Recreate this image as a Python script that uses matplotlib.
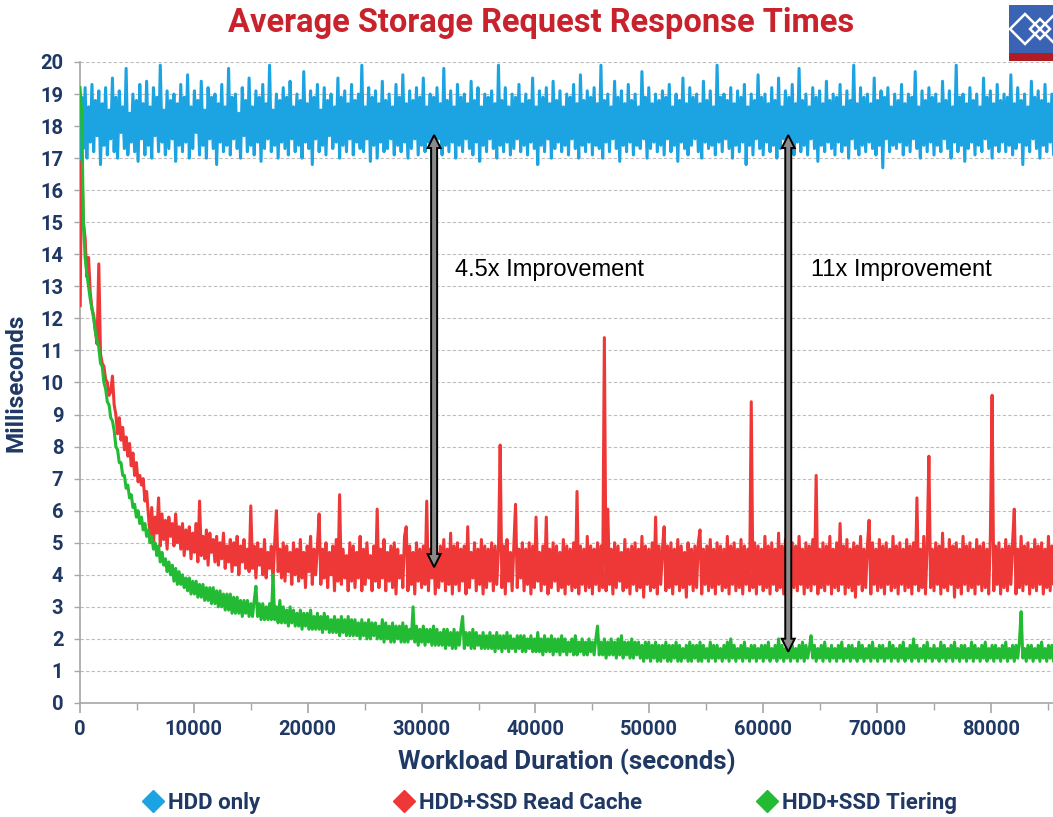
import numpy as np
import matplotlib
matplotlib.use('Agg')
import matplotlib.pyplot as plt
from matplotlib.lines import Line2D
from matplotlib.patches import Rectangle, Polygon

# ---------------- data (one sample every STEP seconds, values in ms) ----------------
STEP = 150

hdd_only = [
    12.4, 18.9, 17.3, 19.2, 17.0, 18.6, 17.5, 19.3, 17.2, 18.8, 17.7, 19.1, 16.8, 18.7, 17.4, 19.2, 17.1, 18.5, 17.6, 19.5,
    17.2, 18.9, 17.0, 19.1, 17.8, 18.6, 17.3, 19.8, 17.1, 18.4, 17.5, 19.0, 17.2, 18.8, 16.9, 19.3, 17.6, 18.7, 17.1, 19.4,
    17.4, 18.6, 17.0, 19.2, 17.7, 18.9, 17.2, 19.9, 17.5, 18.5, 17.1, 19.1, 17.3, 18.8, 17.6, 19.0, 16.9, 18.7, 17.4, 19.3,
    17.2, 18.9, 17.5, 19.6, 17.0, 18.6, 17.3, 19.1, 17.8, 18.8, 17.1, 19.4, 17.4, 18.5, 17.0, 19.2, 17.6, 18.9, 17.3, 19.0,
    16.8, 18.7, 17.5, 19.3, 17.2, 18.6, 17.4, 19.8, 17.1, 18.9, 17.6, 19.0, 17.3, 18.4, 17.0, 19.2, 17.7, 18.8, 17.2, 19.5,
    17.4, 18.6, 17.1, 19.1, 17.5, 18.9, 16.9, 19.3, 17.3, 18.7, 17.6, 19.9, 17.2, 18.5, 17.4, 19.0, 17.0, 18.8, 17.5, 19.2,
    17.3, 18.9, 17.1, 19.4, 17.6, 18.6, 17.2, 19.0, 17.4, 18.8, 17.0, 19.7, 17.5, 18.7, 17.3, 19.1, 16.8, 18.9, 17.6, 19.3,
    17.2, 18.5, 17.4, 19.2, 17.1, 18.8, 17.7, 19.0, 17.3, 18.6, 17.5, 19.5, 17.0, 18.9, 17.4, 19.1, 17.2, 18.7, 17.6, 19.3,
    17.1, 18.8, 17.5, 19.0, 17.3, 19.9, 17.2, 18.6, 17.6, 19.2, 16.9, 18.9, 17.4, 19.1, 17.0, 18.7, 17.5, 19.4, 17.2, 18.8,
    17.3, 19.0, 17.6, 18.6, 17.1, 19.3, 17.4, 18.9, 17.2, 19.6, 17.5, 18.7, 17.0, 19.1, 17.3, 18.8, 17.6, 19.2, 17.1, 18.9,
    17.4, 19.5, 17.2, 18.6, 17.5, 19.0, 16.8, 18.9, 17.3, 19.2, 17.6, 18.7, 17.1, 19.8, 17.4, 18.8, 17.2, 19.1, 17.5, 18.6,
    17.0, 19.3, 17.4, 18.9, 17.2, 19.0, 17.6, 18.7, 17.3, 19.4, 17.1, 18.8, 17.5, 19.2, 16.9, 18.6, 17.4, 19.0, 17.2, 18.9,
    17.6, 19.1, 17.3, 18.7, 17.0, 19.9, 17.4, 18.8, 17.2, 19.2, 17.5, 18.6, 17.1, 19.0, 17.3, 18.9, 17.6, 19.3, 17.2, 18.7,
    17.4, 19.0, 17.1, 18.8, 17.5, 19.5, 17.3, 18.6, 16.8, 19.1, 17.4, 18.9, 17.2, 19.2, 17.6, 18.7, 17.0, 19.4, 17.3, 18.8,
    17.5, 19.1, 17.2, 18.6, 17.4, 19.0, 17.1, 18.9, 17.6, 19.3, 17.3, 18.7, 17.0, 19.6, 17.4, 18.8, 17.2, 19.1, 17.5, 18.9,
    17.1, 19.2, 17.4, 18.7, 17.3, 19.9, 17.0, 18.8, 17.5, 19.0, 17.2, 18.6, 17.6, 19.4, 17.3, 18.9, 16.9, 19.1, 17.4, 18.7,
    17.2, 19.3, 17.5, 18.8, 17.1, 19.0, 17.4, 18.6, 17.3, 19.7, 17.6, 18.9, 17.0, 19.2, 17.3, 18.7, 17.5, 19.0, 17.2, 18.8,
    17.4, 19.1, 17.1, 18.9, 17.6, 19.3, 17.2, 18.6, 17.4, 19.0, 16.9, 18.8, 17.5, 19.5, 17.3, 18.7, 17.1, 19.2, 17.4, 18.9,
    17.6, 19.0, 17.2, 18.7, 17.0, 19.4, 17.5, 18.8, 17.3, 19.1, 17.4, 18.6, 17.1, 19.9, 17.5, 18.9, 17.2, 19.0, 17.6, 18.8,
    17.3, 19.2, 17.0, 18.7, 17.4, 19.1, 17.2, 18.9, 17.5, 19.3, 16.8, 18.6, 17.4, 19.0, 17.1, 18.8, 17.6, 19.6, 17.3, 18.9,
    17.1, 19.0, 17.5, 18.7, 17.2, 19.2, 17.4, 18.8, 17.0, 19.5, 17.3, 18.6, 17.6, 19.1, 17.2, 18.9, 17.4, 19.3, 17.1, 18.7,
    17.5, 19.8, 17.2, 18.8, 17.4, 19.0, 17.1, 18.6, 17.6, 19.2, 17.3, 18.9, 16.9, 19.1, 17.4, 18.7, 17.2, 19.4, 17.5, 18.8,
    17.3, 19.0, 17.1, 18.9, 17.5, 19.3, 17.2, 18.6, 17.4, 19.1, 17.0, 18.8, 17.6, 19.9, 17.3, 18.7, 17.1, 19.2, 17.4, 18.9,
    17.2, 19.0, 17.5, 18.7, 17.3, 19.5, 17.1, 18.8, 17.4, 19.1, 16.7, 18.9, 17.6, 19.2, 17.2, 18.6, 17.4, 19.0, 17.3, 18.8,
    17.5, 19.3, 17.1, 18.7, 17.4, 19.0, 17.2, 18.9, 17.6, 19.7, 17.3, 18.6, 17.0, 19.1, 17.4, 18.8, 17.2, 19.2, 17.5, 18.9,
    17.1, 19.0, 17.4, 18.7, 17.2, 19.4, 17.6, 18.8, 17.3, 19.1, 17.0, 18.6, 17.5, 19.9, 17.2, 18.9, 17.4, 19.0, 16.9, 18.7,
    17.3, 19.2, 17.5, 18.8, 17.1, 19.0, 17.4, 18.6, 17.2, 19.5, 17.6, 18.9, 17.3, 19.1, 17.0, 18.7, 17.4, 19.3, 17.2, 18.8,
    17.5, 19.0, 17.2, 18.9, 17.4, 19.6, 17.1, 18.7, 17.3, 19.2, 17.5, 18.8, 16.8, 19.0, 17.4, 18.6, 17.2, 19.4, 17.6, 18.9,
    17.3, 19.1, 17.0, 18.8, 17.4, 19.3, 17.2, 18.7, 17.5, 19.0, 17.1, 18.9, 17.4, 19.2, 17.3, 18.6, 17.5, 19.1, 17.2, 18.8,
]

read_cache = [
    12.4, 16.9, 15.0, 14.5, 13.3, 13.9, 12.8, 12.3, 12.1, 11.6, 11.2, 13.7, 10.9, 10.6, 10.5, 10.1, 10.0, 9.6, 9.7, 10.2,
    9.3, 9.0, 8.4, 8.9, 8.2, 8.6, 7.9, 8.3, 7.7, 8.1, 7.4, 7.8, 7.1, 7.5, 6.9, 7.1, 6.8, 7.0, 6.3, 6.6,
    5.9, 5.2, 6.1, 5.0, 5.8, 5.3, 6.4, 4.9, 5.9, 5.1, 5.7, 4.8, 5.8, 5.2, 5.6, 4.9, 5.9, 5.0, 5.5, 4.8,
    5.6, 4.6, 5.4, 4.8, 5.5, 4.5, 5.3, 4.7, 5.6, 4.4, 6.3, 4.6, 5.2, 4.5, 5.4, 4.3, 5.3, 4.7, 5.1, 4.4,
    5.2, 4.3, 5.0, 4.5, 5.3, 4.2, 4.9, 4.4, 5.1, 4.1, 5.0, 4.3, 5.2, 4.0, 4.9, 4.4, 5.1, 4.2, 4.8, 4.1,
    6.15, 4.2, 4.9, 3.9, 5.0, 4.3, 4.8, 4.0, 5.1, 3.9, 4.7, 4.2, 4.9, 3.8, 5.0, 6.0, 4.1, 4.8, 3.9, 5.0,
    3.8, 4.9, 4.1, 4.7, 3.7, 5.0, 4.0, 4.8, 3.8, 5.1, 3.9, 4.7, 3.6, 4.9, 4.1, 5.2, 3.7, 4.8, 4.0, 4.9,
    5.9, 3.7, 4.8, 3.9, 5.0, 3.6, 4.7, 4.0, 4.9, 3.5, 5.1, 3.8, 6.5, 3.7, 4.8, 3.9, 4.6, 3.5, 5.0, 3.8,
    4.9, 3.6, 4.7, 3.9, 5.2, 3.5, 4.8, 3.7, 5.0, 3.9, 4.6, 3.5, 4.9, 3.8, 6.05, 3.6, 4.8, 3.9, 5.1, 3.5,
    4.7, 3.8, 4.9, 3.6, 5.0, 3.4, 4.8, 3.9, 4.6, 3.6, 5.2, 5.5, 3.5, 4.9, 3.7, 4.7, 3.4, 5.0, 3.8, 4.8,
    3.6, 4.9, 3.7, 6.3, 3.5, 4.8, 3.9, 5.0, 3.4, 4.7, 3.6, 4.9, 3.8, 5.1, 3.5, 4.8, 3.7, 5.3, 3.4, 4.9,
    3.7, 5.0, 3.5, 4.8, 3.8, 4.9, 3.4, 5.5, 3.6, 4.7, 3.9, 5.0, 3.5, 4.8, 3.7, 5.1, 3.4, 4.9, 3.6, 4.8,
    3.8, 5.0, 3.5, 4.9, 3.7, 4.8, 8.05, 3.6, 4.9, 3.4, 5.1, 3.8, 4.7, 3.5, 4.9, 6.2, 3.6, 4.8, 3.9, 5.0,
    3.5, 4.8, 3.7, 5.0, 3.4, 4.9, 3.6, 5.8, 3.8, 4.7, 3.5, 4.9, 3.7, 5.8, 3.4, 4.8, 3.6, 5.0, 3.8, 4.9,
    3.5, 4.7, 3.6, 5.1, 3.4, 4.9, 3.7, 4.8, 3.5, 5.0, 3.6, 6.6, 3.4, 4.9, 3.7, 4.8, 3.5, 5.2, 3.6, 4.9,
    3.4, 4.8, 3.7, 5.0, 3.5, 4.9, 3.6, 11.4, 3.5, 6.05, 3.7, 4.8, 3.4, 5.0, 3.6, 4.9, 3.8, 4.7, 3.5, 5.1,
    3.6, 4.8, 3.4, 4.9, 3.7, 5.0, 3.5, 4.8, 3.6, 5.2, 3.3, 4.9, 3.7, 4.8, 3.5, 5.0, 3.6, 5.8, 3.4, 4.9,
    3.7, 4.8, 5.5, 3.5, 4.9, 3.6, 5.0, 3.4, 4.8, 3.7, 5.1, 3.5, 4.9, 3.6, 4.7, 3.3, 5.0, 3.7, 4.8, 3.5,
    4.9, 3.6, 5.0, 5.4, 3.4, 4.8, 3.7, 4.9, 3.5, 5.1, 3.6, 4.8, 3.4, 5.0, 3.7, 4.9, 3.5, 4.8, 3.6, 5.2,
    3.4, 4.9, 3.7, 5.0, 3.5, 4.8, 3.6, 5.1, 3.4, 4.9, 3.7, 4.8, 3.5, 9.4, 3.6, 5.0, 3.4, 4.9, 3.7, 4.8,
    3.5, 5.2, 3.6, 4.9, 3.4, 5.0, 3.7, 4.8, 3.5, 5.3, 3.6, 4.9, 3.4, 5.1, 3.7, 4.8, 3.3, 5.0, 3.6, 4.9,
    3.5, 5.2, 3.7, 4.8, 3.4, 5.0, 3.6, 4.9, 3.5, 5.1, 3.7, 7.1, 3.4, 4.8, 3.6, 5.0, 3.5, 4.9, 3.7, 5.2,
    3.4, 4.8, 3.6, 5.0, 3.5, 5.6, 3.7, 4.9, 3.4, 5.1, 3.6, 4.8, 3.5, 5.0, 3.3, 4.9, 3.7, 5.2, 3.5, 4.8,
    3.6, 4.9, 5.7, 3.4, 5.0, 3.7, 4.8, 3.5, 5.1, 3.6, 4.9, 3.4, 5.0, 3.7, 4.8, 3.5, 5.2, 3.6, 4.9, 3.4,
    5.0, 3.7, 4.8, 3.5, 5.1, 3.6, 4.9, 3.4, 5.0, 3.7, 6.4, 3.5, 4.8, 3.6, 5.2, 3.4, 4.9, 7.7, 3.6, 4.8,
    3.5, 5.0, 3.7, 4.9, 3.4, 5.3, 3.6, 4.8, 3.5, 5.1, 3.7, 4.9, 3.3, 5.0, 3.6, 4.8, 3.4, 5.2, 3.7, 4.9,
    3.5, 5.0, 3.6, 4.8, 3.4, 5.1, 3.7, 4.9, 3.5, 5.0, 3.6, 4.8, 3.4, 5.2, 9.6, 3.5, 4.9, 3.7, 5.0, 3.4,
    4.8, 3.6, 5.1, 3.5, 4.9, 3.7, 5.0, 6.05, 3.4, 4.8, 3.6, 5.2, 3.5, 4.9, 3.7, 5.0, 3.4, 4.8, 3.6, 5.1,
    3.5, 4.9, 3.7, 5.0, 3.4, 4.8, 3.6, 5.2, 3.5, 4.9, 3.7, 5.0, 3.4, 4.8, 3.6, 5.1, 3.5, 4.9, 3.7, 5.0,
]

tiering = [
    19.2, 18.4, 15.0, 13.9, 13.4, 13.0, 12.6, 12.3, 12.0, 11.6, 11.3, 11.1, 10.6, 10.5, 10.0, 9.8, 9.4, 9.3, 8.9, 8.8,
    8.5, 8.0, 7.9, 7.5, 7.5, 7.1, 7.1, 6.7, 6.8, 6.4, 6.5, 6.1, 6.2, 5.8, 6.0, 5.6, 5.8, 5.4, 5.6, 5.2,
    5.4, 5.0, 5.2, 4.8, 5.0, 4.6, 4.9, 4.4, 4.7, 4.3, 4.5, 4.1, 4.4, 4.0, 4.3, 3.8, 4.2, 3.7, 4.1, 3.7,
    4.0, 3.6, 3.9, 3.5, 3.9, 3.4, 3.8, 3.4, 3.8, 3.3, 3.7, 3.3, 3.7, 3.2, 3.6, 3.2, 3.6, 3.1, 3.6, 3.1,
    3.5, 3.0, 3.5, 3.0, 3.4, 2.9, 3.4, 2.9, 3.4, 2.8, 3.3, 2.8, 3.3, 2.8, 3.2, 2.7, 3.2, 2.8, 3.2, 2.7,
    3.1, 2.7, 3.2, 3.64, 2.7, 3.1, 2.6, 3.1, 2.6, 3.0, 2.6, 3.1, 2.6, 4.0, 2.6, 3.0, 2.5, 3.2, 2.5, 3.0,
    2.5, 2.9, 2.4, 3.0, 2.5, 2.9, 2.4, 2.8, 2.4, 2.9, 2.3, 2.8, 2.4, 2.8, 2.3, 2.9, 2.3, 2.7, 2.3, 2.8,
    2.3, 2.7, 2.2, 2.8, 2.3, 2.7, 2.2, 2.6, 2.2, 2.7, 2.2, 2.6, 2.1, 2.7, 2.2, 2.6, 2.1, 2.7, 2.1, 2.6,
    2.1, 2.6, 2.1, 2.5, 2.0, 2.6, 2.1, 2.5, 2.0, 2.6, 2.0, 2.5, 2.1, 2.5, 2.0, 2.4, 2.0, 2.6, 1.9, 2.5,
    2.0, 2.4, 1.9, 2.5, 1.9, 2.4, 2.0, 2.4, 1.9, 2.5, 1.9, 2.4, 1.9, 2.3, 2.0, 3.0, 1.9, 2.4, 1.8, 2.3,
    1.9, 2.4, 1.8, 2.3, 1.9, 2.3, 1.8, 2.4, 1.8, 2.3, 1.8, 2.2, 1.8, 2.3, 1.7, 2.3, 1.8, 2.2, 1.7, 2.3,
    1.7, 2.2, 1.8, 2.3, 2.7, 1.7, 2.2, 1.8, 2.2, 1.7, 2.3, 1.7, 2.2, 1.8, 2.1, 1.7, 2.2, 1.7, 2.1, 1.7,
    2.2, 1.7, 2.1, 1.6, 2.2, 1.7, 2.1, 1.6, 2.1, 1.7, 2.2, 1.6, 2.1, 1.7, 2.0, 1.6, 2.1, 1.7, 2.1, 1.6,
    2.1, 1.6, 2.0, 1.7, 2.1, 1.6, 2.0, 1.6, 2.2, 1.6, 2.0, 1.5, 2.1, 1.6, 2.0, 1.6, 2.1, 1.5, 2.0, 1.6,
    2.0, 1.5, 2.1, 1.6, 2.0, 1.5, 1.9, 1.6, 2.0, 1.5, 2.1, 1.5, 1.9, 1.6, 2.0, 1.5, 1.9, 1.5, 2.0, 1.6,
    1.9, 1.5, 2.0, 2.4, 1.5, 1.9, 1.5, 2.0, 1.4, 1.9, 1.5, 2.0, 1.5, 1.9, 1.4, 2.0, 1.5, 2.1, 1.4, 1.9,
    1.5, 1.9, 1.4, 2.0, 1.4, 1.9, 1.5, 1.9, 1.4, 1.8, 1.3, 1.9, 1.4, 1.9, 1.3, 1.8, 1.4, 1.9, 1.3, 1.8,
    1.3, 1.8, 1.4, 1.9, 1.3, 1.8, 1.3, 1.8, 1.4, 1.9, 1.3, 1.8, 1.3, 1.7, 1.4, 1.8, 1.3, 1.9, 1.3, 1.8,
    1.4, 1.8, 1.3, 1.9, 1.3, 1.8, 1.4, 1.7, 1.3, 1.9, 1.4, 1.8, 1.3, 1.8, 1.4, 1.7, 1.3, 1.8, 1.4, 1.9,
    1.3, 2.0, 1.4, 1.8, 1.3, 1.7, 1.4, 1.8, 1.3, 1.9, 1.4, 1.7, 1.3, 1.8, 1.4, 1.8, 1.3, 1.7, 1.4, 1.8,
    1.3, 1.8, 1.4, 1.9, 1.3, 1.7, 1.4, 1.8, 1.3, 2.0, 1.4, 1.8, 1.3, 1.7, 1.4, 1.9, 1.3, 1.8, 1.4, 1.7,
    1.3, 1.8, 1.4, 1.9, 1.3, 1.8, 1.4, 1.7, 2.1, 1.4, 1.8, 1.3, 1.7, 1.4, 1.8, 1.3, 1.9, 1.4, 1.7, 1.3,
    1.8, 1.4, 1.7, 1.3, 1.8, 1.4, 1.9, 1.3, 1.7, 1.4, 1.8, 1.3, 1.8, 1.4, 1.7, 1.3, 1.9, 1.4, 1.8, 1.3,
    1.7, 1.4, 1.8, 1.3, 1.9, 1.4, 1.7, 1.3, 1.8, 1.4, 1.8, 1.3, 1.7, 1.4, 1.9, 1.3, 1.8, 1.4, 1.7, 1.3,
    1.8, 1.4, 1.9, 1.3, 1.7, 1.4, 1.8, 1.3, 2.0, 1.4, 1.8, 1.3, 1.7, 1.4, 1.8, 1.3, 1.9, 1.4, 1.7, 1.3,
    1.8, 1.4, 1.7, 1.3, 1.9, 1.4, 1.8, 1.3, 1.7, 1.4, 1.8, 1.3, 1.9, 1.4, 1.7, 1.3, 1.8, 1.4, 1.8, 1.3,
    1.7, 1.4, 1.9, 1.3, 1.8, 1.4, 1.7, 1.3, 1.8, 1.4, 1.9, 1.3, 1.7, 1.4, 1.8, 1.3, 1.8, 1.4, 1.7, 1.3,
    1.8, 1.4, 1.9, 1.3, 1.7, 1.4, 1.8, 1.3, 1.8, 1.4, 1.9, 2.85, 1.4, 1.7, 1.3, 1.8, 1.4, 1.8, 1.3, 1.7,
    1.4, 1.8, 1.3, 1.9, 1.4, 1.7, 1.3, 1.8, 1.4, 1.8, 1.3, 1.7, 1.4, 1.9, 1.3, 1.8, 1.4, 1.7, 1.3, 1.8,
]

series_names = ['HDD only', 'HDD+SSD Read Cache', 'HDD+SSD Tiering']
series_values = [hdd_only, read_cache, tiering]
series_colors = ['#1ba3e2', '#ee3737', '#22bb33']

x_major_ticks = [0, 10000, 20000, 30000, 40000, 50000, 60000, 70000, 80000]
x_minor_ticks = [5000, 15000, 25000, 35000, 45000, 55000, 65000, 75000, 85000]
y_ticks = list(range(0, 21))

arrow_x = [31100, 62200]
arrow_top = [17.72, 17.72]
arrow_bottom = [4.24, 1.60]
arrow_labels = ['4.5x Improvement', '11x Improvement']
label_x = [32900, 64200]
label_y = 13.5

TITLE = 'Average Storage Request Response Times'
NAVY = '#1f3864'
TITLE_RED = '#c8232c'

# ---------------- figure ----------------
fig = plt.figure(figsize=(10.53, 8.17), dpi=100)
ax = fig.add_axes([80 / 1053, 1 - 703 / 817, 1 - 80 / 1053, (703 - 62) / 817])

for name, vals, col in zip(series_names, series_values, series_colors):
    xs = np.arange(len(vals)) * STEP
    ax.plot(xs, vals, color=col, lw=2.2, zorder=3)

ax.set_xlim(0, 85450)
ax.set_ylim(0, 20)
ax.set_xticks(x_major_ticks)
ax.set_xticks(x_minor_ticks, minor=True)
ax.set_xticklabels([str(t) for t in x_major_ticks])
ax.set_yticks(y_ticks)
ax.grid(axis='y', color='#bdbdbd', linestyle=(0, (3, 2)), lw=0.8, zorder=0)
for s in ['top', 'right']:
    ax.spines[s].set_visible(False)
for s in ['left', 'bottom']:
    ax.spines[s].set_color('#a6a6a6')
    ax.spines[s].set_linewidth(1.2)
ax.tick_params(axis='x', which='major', length=7, width=1.2, color='#a6a6a6', pad=5)
ax.tick_params(axis='x', which='minor', length=5, width=1.0, color='#a6a6a6')
ax.tick_params(axis='y', length=4, width=1.0, color='#a6a6a6', pad=8)
for lab in ax.get_xticklabels() + ax.get_yticklabels():
    lab.set_fontfamily('Roboto')
    lab.set_fontweight('bold')
    lab.set_fontsize(14.5)
    lab.set_color(NAVY)

ax.set_xlabel('Workload Duration (seconds)', fontsize=18.5, fontweight='bold',
              color=NAVY, family='Roboto', labelpad=7)
ax.set_ylabel('Milliseconds', fontsize=17.5, fontweight='bold',
              color=NAVY, family='Roboto', labelpad=9)

# double arrows (annotation)
def double_arrow(x, y_bot, y_top, shaft=6.0, head_w=13.0, head_l=13.0):
    px, pb = ax.transData.transform((x, y_bot))
    _, pt = ax.transData.transform((x, y_top))
    hs, hw = shaft / 2, head_w / 2
    verts = [(px, pt), (px + hw, pt - head_l), (px + hs, pt - head_l),
             (px + hs, pb + head_l), (px + hw, pb + head_l), (px, pb),
             (px - hw, pb + head_l), (px - hs, pb + head_l),
             (px - hs, pt - head_l), (px - hw, pt - head_l)]
    dv = ax.transData.inverted().transform(verts)
    ax.add_patch(Polygon(dv, closed=True, fc='#8a8a8a', ec='black',
                         lw=1.4, zorder=6, joinstyle='miter'))

for xa, yb, yt in zip(arrow_x, arrow_bottom, arrow_top):
    double_arrow(xa, yb, yt)

for txt, lx in zip(arrow_labels, label_x):
    ax.text(lx, label_y, txt, fontsize=17, family='Liberation Sans',
            color='black', va='center', ha='left', zorder=7)

# title
fig.text(541 / 1053, 1 - 23 / 817, TITLE, ha='center', va='center',
         fontsize=23.5, fontweight='bold', color=TITLE_RED, family='Roboto')

# legend: one entry per series, placed like the reference
legend_marker_px = [153, 404, 767]
for n, c, mx in zip(series_names, series_colors, legend_marker_px):
    h = Line2D([], [], marker='D', linestyle='none', color=c, markersize=11, label=n)
    leg = fig.legend(handles=[h], loc='center left', frameon=False,
                     bbox_to_anchor=((mx - 9) / 1053, 1 - 803 / 817),
                     borderaxespad=0, borderpad=0, handlelength=0.8,
                     handletextpad=0.3,
                     prop={'family': 'Roboto', 'weight': 'bold', 'size': 16})
    for t in leg.get_texts():
        t.set_color(NAVY)

# logo (decoration)
fig.patches.append(Rectangle((1009 / 1053, 1 - 53 / 817), 44 / 1053, 48 / 817,
                             transform=fig.transFigure, fc='#3a63b4', ec='none'))
fig.patches.append(Rectangle((1009 / 1053, 1 - 61 / 817), 44 / 1053, 8 / 817,
                             transform=fig.transFigure, fc='#b01c22', ec='none'))
for cx, cy, r in [(1025, 29, 15), (1040, 29, 10), (1055, 29, 15)]:
    pts = [((cx) / 1053, 1 - (cy - r) / 817), ((cx + r) / 1053, 1 - cy / 817),
           ((cx) / 1053, 1 - (cy + r) / 817), ((cx - r) / 1053, 1 - cy / 817)]
    fig.patches.append(Polygon(pts, closed=True, transform=fig.transFigure,
                               fc='none', ec='white', lw=1.8))

fig.savefig('out.png', dpi=100)
